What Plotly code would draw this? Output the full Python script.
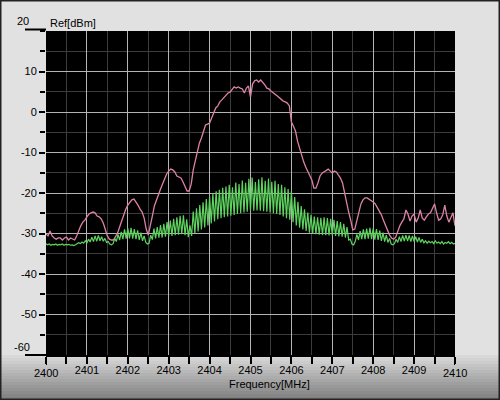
import numpy as np
import plotly.graph_objects as go

# ---------------- data ----------------
FREQ_START = 2400.0
FREQ_STOP = 2410.0

# pink trace (dBm), sampled every 0.05 MHz from 2400 to 2410
pink_db = [
    -30.1, -30.6, -29.4, -30.6, -31.1, -31.4, -31.1, -31.1, -31.6, -31.1,
    -30.9, -31.6, -31.1, -31.4, -31.6, -30.6, -29.1, -28.1, -27.2, -26.7,
    -25.9, -25.2, -24.9, -24.7, -24.9, -25.7, -25.9, -26.4, -27.4, -29.1,
    -30.6, -31.4, -31.6, -31.6, -30.9, -29.9, -28.4, -26.9, -25.2, -24.0,
    -23.0, -22.2, -21.7, -21.5, -22.2, -23.0, -24.0, -24.7, -26.2, -28.9,
    -30.4, -28.4, -25.7, -23.2, -21.7, -20.0, -19.0, -17.8, -16.3, -15.3,
    -14.6, -14.1, -14.3, -14.8, -15.8, -16.0, -16.3, -17.3, -18.5, -19.5,
    -19.5, -17.8, -14.3, -12.1, -9.4, -7.7, -6.4, -4.7, -3.2, -3.0,
    -2.7, -1.5, 0.0, 1.0, 1.5, 2.5, 3.0, 3.5, 4.2, 4.7,
    4.9, 5.7, 6.2, 5.9, 6.2, 5.9, 5.7, 4.7, 5.9, 6.4,
    3.7, 6.9, 7.7, 7.9, 7.4, 7.9, 7.4, 6.7, 5.9, 5.7,
    5.2, 4.7, 4.4, 4.0, 3.5, 3.0, 2.7, 2.5, 2.2, 1.5,
    -2.5, -3.5, -4.7, -7.2, -9.1, -10.9, -12.3, -13.6, -14.8, -15.6,
    -16.8, -18.8, -18.8, -17.5, -15.8, -15.1, -14.8, -14.3, -14.1, -14.6,
    -15.1, -14.6, -14.8, -15.6, -16.3, -17.5, -20.0, -22.7, -24.7, -26.7,
    -29.1, -28.9, -26.9, -24.7, -22.7, -21.7, -21.2, -21.2, -21.5, -21.7,
    -22.2, -22.7, -23.5, -24.4, -25.4, -26.7, -28.1, -29.4, -30.4, -31.1,
    -31.4, -30.9, -29.4, -28.1, -27.2, -26.4, -24.2, -25.2, -26.9, -25.7,
    -25.2, -27.2, -26.2, -24.2, -26.2, -26.7, -25.9, -25.2, -24.9, -23.7,
    -22.7, -24.9, -26.7, -26.4, -25.4, -23.0, -25.7, -27.2, -25.9, -24.9,
    -28.1,
]

# green trace (dBm), sampled every 0.04 MHz from 2400 to 2410
green_db = [
    -32.5, -32.8, -32.6, -32.9, -32.7, -32.8, -32.6, -32.9, -32.7, -32.8,
    -32.6, -32.9, -32.7, -32.8, -32.7, -32.9, -32.8, -33.0, -32.8, -32.6,
    -32.3, -32.5, -32.1, -32.4, -31.8, -32.3, -31.4, -32.1, -30.9, -32.0,
    -30.6, -31.9, -30.5, -31.8, -30.8, -31.9, -31.2, -32.2, -32.0, -32.6,
    -32.8, -32.5, -31.2, -32.0, -30.2, -31.6, -29.6, -31.4, -29.0, -31.3,
    -28.7, -31.2, -28.6, -31.3, -28.9, -31.4, -29.2, -31.6, -29.8, -31.8,
    -30.6, -32.2, -32.6, -32.4, -30.4, -31.5, -28.8, -31.2, -28.4, -31.0,
    -27.9, -31.0, -27.6, -30.8, -27.2, -30.7, -26.8, -30.6, -26.4, -30.4,
    -26.0, -30.3, -25.6, -30.2, -25.5, -30.4, -26.5, -30.9, -28.0, -30.6,
    -24.6, -30.0, -23.8, -29.5, -23.0, -29.0, -22.3, -28.5, -21.5, -28.0,
    -20.8, -27.5, -20.2, -27.0, -19.6, -26.5, -19.2, -26.2, -18.7, -26.0,
    -18.4, -25.8, -18.0, -25.6, -18.6, -25.4, -17.4, -25.2, -17.8, -25.0,
    -16.9, -24.8, -17.5, -24.6, -16.5, -24.5, -16.2, -24.4, -17.3, -24.3,
    -16.6, -24.4, -16.1, -24.5, -17.0, -24.6, -16.4, -24.8, -17.2, -25.0,
    -17.0, -25.2, -17.8, -25.4, -18.0, -25.8, -18.6, -26.2, -19.0, -26.6,
    -19.6, -27.2, -21.0, -28.0, -22.2, -28.6, -23.2, -29.0, -24.0, -29.4,
    -24.8, -29.8, -25.4, -30.0, -25.8, -30.2, -26.0, -30.3, -26.1, -30.4,
    -26.0, -30.4, -26.2, -30.5, -26.4, -30.5, -26.6, -30.6, -26.9, -30.7,
    -27.2, -30.8, -27.6, -31.0, -28.4, -31.6, -31.4, -32.6, -32.8, -32.0,
    -30.2, -31.6, -29.4, -31.4, -29.0, -31.4, -28.8, -31.3, -28.6, -31.4,
    -28.7, -31.5, -28.9, -31.6, -29.3, -31.8, -29.8, -32.0, -30.4, -32.2,
    -31.2, -32.6, -32.8, -32.5, -31.4, -32.2, -30.8, -32.0, -30.5, -31.9,
    -30.4, -31.9, -30.5, -32.0, -30.6, -32.0, -30.8, -32.1, -31.0, -32.2,
    -31.4, -32.3, -31.8, -32.4, -31.9, -32.3, -32.0, -32.5, -31.8, -32.4,
    -32.1, -32.5, -32.0, -32.6, -32.2, -32.4, -32.0, -32.5, -32.2, -32.6,
    -32.4,
]

pink_freq = np.linspace(FREQ_START, FREQ_STOP, len(pink_db))
green_freq = np.linspace(FREQ_START, FREQ_STOP, len(green_db))

x_tick_vals = [2401, 2402, 2403, 2404, 2405, 2406, 2407, 2408, 2409, 2410]
x_tick_text = ["2401", "2402", "2403", "2404", "2405", "2406", "2407", "2408", "2409", ""]
x_edge_labels = ["2400", "2410"]
y_tick_vals = [-50, -40, -30, -20, -10, 0, 10]
y_tick_text = ["-50", "-40", "-30", "-20", "-10", "0", "10"]
y_edge_labels = ["20", "-60"]

# ---------------- layout geometry ----------------
W, H = 500, 400
L, R, T, B = 46, 45, 31, 45
PW, PH = W - L - R, H - T - B


def px2x(px):
    return (px - L) / PW


def py2y(py):
    return (H - B - py) / PH


FONT = "Liberation Sans, Arial, sans-serif"

fig = go.Figure()
fig.add_trace(go.Scatter(x=pink_freq, y=pink_db, mode="lines",
                         line=dict(color="#dc82a6", width=1.3), showlegend=False))
fig.add_trace(go.Scatter(x=green_freq, y=green_db, mode="lines",
                         line=dict(color="#5fd35f", width=1.2), showlegend=False))

shapes = []
# bottom gradient
n = 15
for i in range(n):
    y0 = H - B + i * 3
    c = int(220 - (220 - 125) * (i + 0.5) / n)
    shapes.append(dict(type="rect", xref="paper", yref="paper",
                       x0=px2x(0), x1=px2x(W), y0=py2y(y0 + 3.5), y1=py2y(y0),
                       fillcolor=f"rgb({c},{c},{c})", line_width=0, layer="below"))
# extended lines at 20 and -60
shapes.append(dict(type="line", xref="paper", yref="paper", x0=px2x(25), x1=px2x(46),
                   y0=py2y(29.5), y1=py2y(29.5), line=dict(color="black", width=2)))
shapes.append(dict(type="line", xref="paper", yref="paper", x0=px2x(25), x1=px2x(46),
                   y0=py2y(355), y1=py2y(355), line=dict(color="black", width=2)))
# long edge ticks on x
for fx in (FREQ_START, FREQ_STOP):
    shapes.append(dict(type="line", xref="x", yref="paper", x0=fx, x1=fx,
                       y0=py2y(355), y1=py2y(365), line=dict(color="black", width=2)))
# outer frame
shapes.append(dict(type="rect", xref="paper", yref="paper",
                   x0=px2x(0.5), x1=px2x(W - 0.5), y0=py2y(H - 0.5), y1=py2y(0.5),
                   line=dict(color="#222222", width=2), layer="above"))

annotations = [
    dict(text="Ref[dBm]", xref="paper", yref="paper", x=px2x(48), y=py2y(23),
         xanchor="left", yanchor="middle", showarrow=False,
         font=dict(family=FONT, size=11, color="black")),
    dict(text="Frequency[MHz]", xref="paper", yref="paper", x=px2x(269), y=py2y(384),
         xanchor="center", yanchor="middle", showarrow=False,
         font=dict(family=FONT, size=11, color="black")),
    dict(text=y_edge_labels[0], xref="paper", yref="paper", x=px2x(31), y=py2y(21),
         xanchor="right", yanchor="middle", showarrow=False,
         font=dict(family=FONT, size=11, color="black")),
    dict(text=y_edge_labels[1], xref="paper", yref="paper", x=px2x(32), y=py2y(347),
         xanchor="right", yanchor="middle", showarrow=False,
         font=dict(family=FONT, size=11, color="black")),
    dict(text=x_edge_labels[0], xref="x", yref="paper", x=FREQ_START, y=py2y(373),
         xanchor="center", yanchor="middle", showarrow=False,
         font=dict(family=FONT, size=11, color="black")),
    dict(text=x_edge_labels[1], xref="x", yref="paper", x=FREQ_STOP, y=py2y(373),
         xanchor="center", yanchor="middle", showarrow=False,
         font=dict(family=FONT, size=11, color="black")),
]

fig.update_layout(
    width=W, height=H,
    margin=dict(l=L, r=R, t=T, b=B, pad=0),
    paper_bgcolor="#e1e1e1",
    plot_bgcolor="black",
    font=dict(family=FONT, size=11, color="black"),
    shapes=shapes,
    annotations=annotations,
    xaxis=dict(
        range=[FREQ_START, FREQ_STOP], tickmode="array",
        tickvals=x_tick_vals, ticktext=x_tick_text,
        showgrid=True, gridcolor="#b4b4b4", gridwidth=1,
        ticks="outside", ticklen=7, tickwidth=2, tickcolor="black",
        ticklabelstandoff=-3,
        showline=True, linecolor="black", linewidth=2,
        zeroline=False, fixedrange=True,
        minor=dict(dtick=0.5, tick0=2400, showgrid=True, gridcolor="#3c3c3c",
                   gridwidth=1, ticks="outside", ticklen=7, tickwidth=2,
                   tickcolor="black"),
    ),
    yaxis=dict(
        range=[-60, 20], tickmode="array",
        tickvals=y_tick_vals, ticktext=y_tick_text,
        showgrid=True, gridcolor="#b4b4b4", gridwidth=1,
        ticks="outside", ticklen=6, tickwidth=2, tickcolor="black",
        showline=False, zeroline=False, fixedrange=True,
        minor=dict(dtick=5, tick0=0, showgrid=True, gridcolor="#3c3c3c",
                   gridwidth=1, ticks="outside", ticklen=5, tickwidth=2,
                   tickcolor="black"),
    ),
)

fig.write_html("out.html", config={"displayModeBar": False},
               post_script="document.body.style.margin='0';document.body.style.overflow='hidden';")
